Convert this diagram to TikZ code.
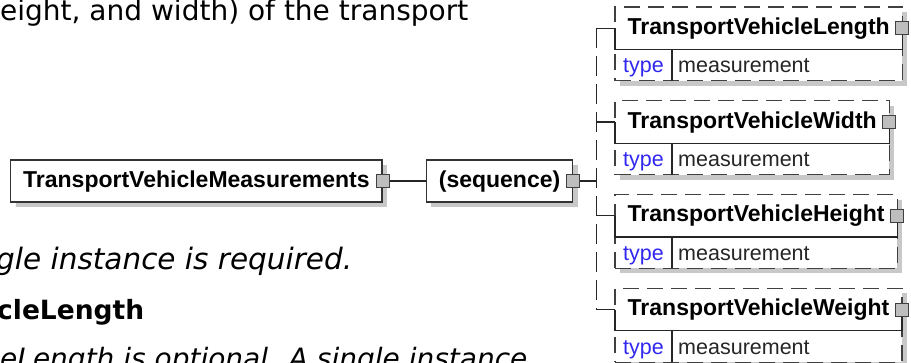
\documentclass[tikz,border=0pt]{standalone}
\usepackage{fontspec}
\usepackage{tikz}
\usetikzlibrary{positioning,shadows,backgrounds,fit,calc}
\newfontfamily\xsdfont{Liberation Sans}
\newfontfamily\docfont{DejaVu Sans}
\definecolor{EdgeGray}{RGB}{64,64,64}
\definecolor{ShadowGray}{RGB}{200,200,200}
\definecolor{KeyBlue}{RGB}{48,40,240}
\definecolor{PlusGray}{RGB}{190,190,190}

\begin{document}
\begin{tikzpicture}[
    x=1pt, y=-1pt,
    node distance=20pt, % gap between the optional element boxes
    doctext/.style={anchor=base west, inner sep=0pt,
      font=\docfont\fontsize{28}{28}\selectfont},
    docit/.style={doctext, font=\docfont\itshape\fontsize{28}{28}\selectfont},
    docbf/.style={doctext, font=\docfont\bfseries\fontsize{26.5}{26.5}\selectfont},
    namebox/.style={
      rectangle, inner xsep=12.5pt, inner ysep=0pt,
      minimum height=42pt, text height=17pt, text depth=5pt,
      font=\xsdfont\bfseries\fontsize{23}{23}\selectfont
    },
    elbox/.style={namebox, draw=black!80, fill=white, line width=1.3pt,
      drop shadow={shadow xshift=5pt, shadow yshift=-5pt, fill=ShadowGray, opacity=1}},
    optbox/.style={draw=EdgeGray, fill=white, line width=1.3pt, inner sep=0pt,
      dash pattern=on 16pt off 8pt,
      drop shadow={shadow xshift=5pt, shadow yshift=-5pt, fill=ShadowGray, opacity=1}},
    typekey/.style={inner xsep=8pt, inner ysep=5pt, text height=18pt, text depth=3pt,
      font=\xsdfont\fontsize{21.5}{21.5}\selectfont, text=KeyBlue},
    typeval/.style={typekey, inner xsep=6pt, text=black!85},
    plusbox/.style={draw=black!75, fill=PlusGray, line width=1pt,
      minimum size=13pt, inner sep=0pt},
    link/.style={draw=black!85, line width=1.3pt},
    buslink/.style={link, dash pattern=on 20pt off 8pt}
  ]
    \useasboundingbox (0,0) rectangle (911,362);

    % Text of the page behind the diagram
    \node[doctext] (txtA) at (0,20.5) {eight, and width) of the transport};
    \node[docit, font=\docfont\itshape\fontsize{29.5}{29.5}\selectfont] (txtB) at (-4,269.5) {gle instance is required.};
    \node[docbf] (txtC) at (-3,319) {cleLength};
    \node[docit] (txtD) at (0,368) {eLength is optional. A single instance};

    % Root element and sequence
    \node[elbox, anchor=west] (root) at (10,181) {TransportVehicleMeasurements};
    \node[elbox, right=43pt of root] (seq) {(sequence)};
    \node[plusbox] (rootsq) at (root.east) {};
    \node[plusbox] (seqsq) at (seq.east) {};
    \coordinate[right=16pt of seqsq] (bus);

    % Child elements (optional, dashed)
    \node[namebox, anchor=north west] (len) at (615,7) {TransportVehicleLength};
    \node[typekey, anchor=north west] (lentype) at (len.south west) {type};
    \node[typeval, right=0pt of lentype] (lenval) {measurement};

    \node[namebox, below=of lentype.south west, anchor=north west] (wid) {TransportVehicleWidth};
    \node[typekey, anchor=north west] (widtype) at (wid.south west) {type};
    \node[typeval, right=0pt of widtype] (widval) {measurement};

    \node[namebox, below=of widtype.south west, anchor=north west] (hgt) {TransportVehicleHeight};
    \node[typekey, anchor=north west] (hgttype) at (hgt.south west) {type};
    \node[typeval, right=0pt of hgttype] (hgtval) {measurement};

    \node[namebox, below=of hgttype.south west, anchor=north west] (wgt) {TransportVehicleWeight};
    \node[typekey, anchor=north west] (wgttype) at (wgt.south west) {type};
    \node[typeval, right=0pt of wgttype] (wgtval) {measurement};

    \begin{scope}[on background layer]
      \node[optbox, fit=(len)(lentype)] (lenbox) {};
      \node[optbox, fit=(wid)(widtype)] (widbox) {};
      \node[optbox, fit=(hgt)(hgttype)] (hgtbox) {};
      \node[optbox, fit=(wgt)(wgttype)] (wgtbox) {};
    \end{scope}

    % Solid frame of each name and the type divider
    \draw[link] (len.west) -- (len.south west) -- (len.south east) -- (len.east);
    \draw[link] (wid.west) -- (wid.south west) -- (wid.south east) -- (wid.east);
    \draw[link] (hgt.west) -- (hgt.south west) -- (hgt.south east) -- (hgt.east);
    \draw[link] (wgt.west) -- (wgt.south west) -- (wgt.south east) -- (wgt.east);
    \draw[link] (lentype.north east) -- (lentype.south east);
    \draw[link] (widtype.north east) -- (widtype.south east);
    \draw[link] (hgttype.north east) -- (hgttype.south east);
    \draw[link] (wgttype.north east) -- (wgttype.south east);

    \node[plusbox] (lensq) at (len.east) {};
    \node[plusbox] (widsq) at (wid.east) {};
    \node[plusbox] (hgtsq) at (hgt.east) {};
    \node[plusbox] (wgtsq) at (wgt.east) {};

    % Connectors
    \draw[link] (rootsq) -- (seq);
    \draw[link] (seqsq) -- (bus);
    \draw[buslink] (bus |- len.west) -- (bus |- wgt.west);
    \draw[link] (bus |- len.west) -- (len.west);
    \draw[link] (bus |- wid.west) -- (wid.west);
    \draw[link] (bus |- hgt.west) -- (hgt.west);
    \draw[link] (bus |- wgt.west) -- (wgt.west);

  \end{tikzpicture}
\end{document}
